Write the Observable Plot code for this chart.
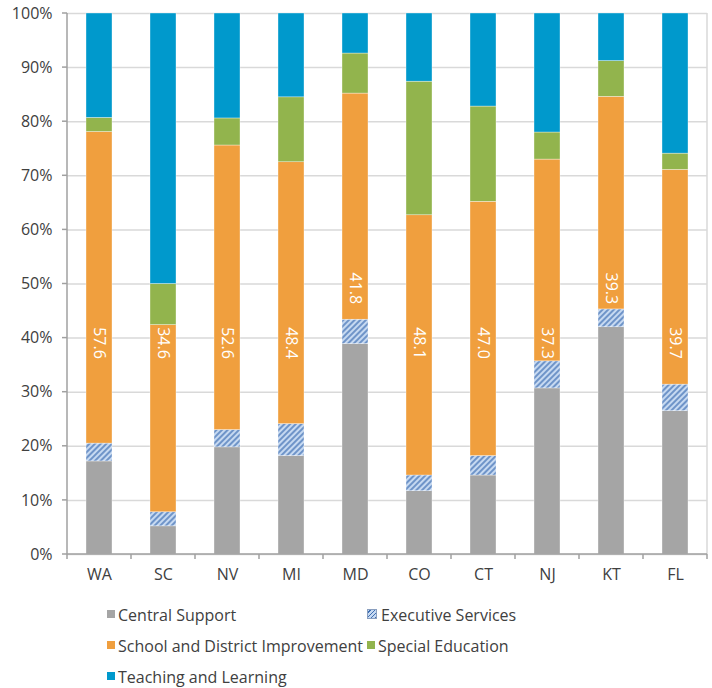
<!DOCTYPE html>
<html>
<head>
<meta charset="utf-8">
<script src="https://cdn.jsdelivr.net/npm/d3@7"></script>
<script src="https://cdn.jsdelivr.net/npm/@observablehq/plot@0.6"></script>
<style>
  body { margin: 0; background: #fff; font-family: "Open Sans", Lato, sans-serif; }
  #chart svg { display: block; }
  #legend { position: relative; width: 712px; height: 96px; font-size: 16px; color: #404040; }
  .lg-text { position: absolute; white-space: nowrap; line-height: 20px; }
  .lg-sw { position: absolute; width: 8px; height: 8px; box-sizing: border-box; }
</style>
</head>
<body>
<div id="chart"></div>
<div id="legend"></div>
<script>
const states = ["WA", "SC", "NV", "MI", "MD", "CO", "CT", "NJ", "KT", "FL"];
const categories = ["Central Support", "Executive Services", "School and District Improvement", "Special Education", "Teaching and Learning"];
const centralSupport     = [17.2,  5.2, 19.8, 18.2, 38.9, 11.7, 14.6, 30.7, 42.0, 26.5];
const executiveServices  = [ 3.3,  2.6,  3.2,  5.9,  4.5,  2.9,  3.6,  5.0,  3.3,  4.9];
const schoolImprovement  = [57.6, 34.6, 52.6, 48.4, 41.8, 48.1, 47.0, 37.3, 39.3, 39.7];
const specialEducation   = [ 2.6,  7.6,  5.0, 12.0,  7.4, 24.7, 17.6,  5.0,  6.6,  3.0];
const teachingLearning   = [19.3, 50.0, 19.4, 15.5,  7.4, 12.6, 17.2, 22.0,  8.8, 25.9];
const yTicks = [0, 10, 20, 30, 40, 50, 60, 70, 80, 90, 100];

const colors = ["#a5a5a5", "url(#hatch)", "#f09f3e", "#92b44d", "#0099cc"];
const series = [centralSupport, executiveServices, schoolImprovement, specialEducation, teachingLearning];

const rows = [];
states.forEach((s, i) => {
  series.forEach((arr, k) => rows.push({state: s, category: categories[k], value: arr[i]}));
});
const labels = states.map((s, i) => {
  const base = centralSupport[i] + executiveServices[i];
  return {state: s, value: schoolImprovement[i], pos: base > 36 ? 49.2 : 39.1};
});

const W = 712, H = 592;

function frameMark(index, scales, values, dims) {
  const g = d3.create("svg:g");
  const x0 = dims.marginLeft, x1 = dims.width - dims.marginRight;
  const yb = dims.height - dims.marginBottom, yt = dims.marginTop;
  g.append("line").attr("x1", x1).attr("x2", x1).attr("y1", yt).attr("y2", yb)
    .attr("stroke", "#d9d9d9").attr("stroke-width", 1.5);
  yTicks.forEach(t => {
    const y = scales.y(t);
    g.append("line").attr("x1", x0 - 5).attr("x2", x0).attr("y1", y).attr("y2", y)
      .attr("stroke", "#a0a0a0").attr("stroke-width", 1.5);
  });
  const sx = scales.x;
  let step, bw;
  try { step = sx.step(); bw = sx.bandwidth(); } catch (e) { step = (x1 - x0) / states.length; bw = step * 0.4; }
  const bounds = [x0];
  states.forEach(s => bounds.push(sx(s) + bw + (step - bw) / 2));
  bounds.forEach(x => {
    g.append("line").attr("x1", x).attr("x2", x).attr("y1", yb).attr("y2", yb + 5)
      .attr("stroke", "#a0a0a0").attr("stroke-width", 1.5);
  });
  g.append("line").attr("x1", x0).attr("x2", x0).attr("y1", yt).attr("y2", yb)
    .attr("stroke", "#a0a0a0").attr("stroke-width", 1.5);
  g.append("line").attr("x1", x0).attr("x2", x1).attr("y1", yb).attr("y2", yb)
    .attr("stroke", "#a0a0a0").attr("stroke-width", 1.5);
  return g.node();
}

const chart = Plot.plot({
  width: W,
  height: H,
  marginLeft: 67,
  marginRight: 5,
  marginTop: 13,
  marginBottom: 38,
  style: {fontFamily: "'Open Sans', Lato, sans-serif", fontSize: "16px", color: "#404040", background: "white", overflow: "visible"},
  x: {domain: states, paddingInner: 0.6, paddingOuter: 0.3, label: null, tickSize: 0, tickPadding: 14},
  y: {domain: [0, 100], ticks: yTicks, tickFormat: d => d + "%", label: null, tickSize: 0, tickPadding: 15},
  color: {domain: categories, range: colors},
  marks: [
    Plot.gridY(yTicks, {stroke: "#d9d9d9", strokeOpacity: 1, strokeWidth: 1.5}),
    Plot.barY(rows, {x: "state", y: "value", fill: "category", stroke: "white", strokeWidth: 0.5, strokeOpacity: 0.7}),
    Plot.text(labels, {x: "state", y: "pos", text: d => d.value.toFixed(1), rotate: 90, fill: "white", fontSize: 16}),
    frameMark
  ]
});

const svg = d3.select(chart);
const defs = svg.insert("defs", ":first-child");
const pat = defs.append("pattern").attr("id", "hatch").attr("patternUnits", "userSpaceOnUse")
  .attr("width", 4).attr("height", 4).attr("patternTransform", "rotate(45)");
pat.append("rect").attr("width", 4).attr("height", 4).attr("fill", "#c6d9f1");
pat.append("line").attr("x1", 1).attr("y1", 0).attr("x2", 1).attr("y2", 4)
  .attr("stroke", "#3f6fb3").attr("stroke-width", 1.3);

document.getElementById("chart").appendChild(chart);

const legend = d3.select("#legend");
const pos = [[107, 16], [367, 16], [107, 47], [367, 47], [107, 78]];
categories.forEach((c, k) => {
  const [lx, ly] = pos[k];
  const sw = legend.append("div").attr("class", "lg-sw")
    .style("left", lx + "px").style("top", (ly + 2) + "px");
  if (k === 1) {
    sw.style("width", "10px").style("height", "10px").style("top", (ly + 1) + "px")
      .style("border", "1px solid #8a9fbf")
      .style("background", "repeating-linear-gradient(-45deg, #3f6fb3 0 1px, #c6d9f1 1px 3px)");
  } else {
    sw.style("background", colors[k]);
  }
  legend.append("div").attr("class", "lg-text")
    .style("left", (lx + (k === 1 ? 14 : 11)) + "px").style("top", (ly - 3) + "px")
    .text(c);
});
</script>
</body>
</html>
